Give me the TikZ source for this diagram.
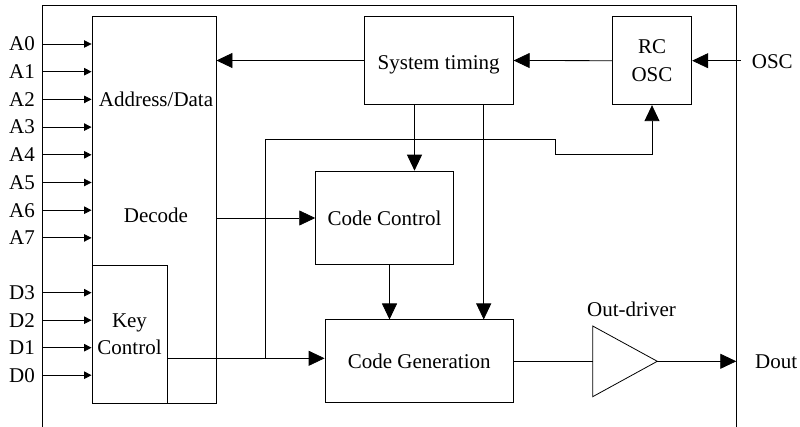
\documentclass[tikz,border=0pt]{standalone}
\usepackage{fontspec}
\setmainfont{Liberation Serif}
\usetikzlibrary{arrows.meta}

\begin{document}
\begin{tikzpicture}[x=1pt,y=-1pt,
  font=\fontsize{21pt}{27.5pt}\selectfont,
  box/.style={draw, line width=0.9pt, inner sep=0pt},
  wire/.style={line width=0.8pt},
  pin/.style={wire, -{Triangle[length=7.5pt,width=7.5pt]}},
  big/.style={wire, -{Triangle[length=16pt,width=15pt]}},
  inlbl/.style={anchor=east, inner xsep=7.7pt, inner ysep=0pt}]
\useasboundingbox (0,0) rectangle (800,427);
% outer frame
\coordinate (ftl) at (42.7,5.7);
\coordinate (ftr) at (736.3,5.7);
\draw[line width=1pt] (42.7,427) -- (ftl) -- (ftr) -- (736.3,427);
% blocks
\node[box, minimum width=124pt, minimum height=387pt] (decode) at (154,209.5){};
\node[box, minimum width=75pt, minimum height=138pt, align=center] (keyctrl) at (129.5,334){Key\\Control};
\node (addr) at (156,99.5){Address/Data};
\node (dec) at (156,215){Decode};
\node[box, minimum width=149pt, minimum height=88pt, text height=19pt, text depth=0pt] (stime) at (438.7,60.5){System timing};
\node[box, minimum width=79.4pt, minimum height=88pt, align=center] (rcosc) at (652,60.7){RC\\OSC};
\node[box, minimum width=137.6pt, minimum height=93.7pt] (cctrl) at (384.5,218){Code Control};
\node[box, minimum width=188.3pt, minimum height=82.7pt] (cgen) at (419.2,361.3){Code Generation};
% out-driver
\coordinate (drvtop) at (592.7,326);
\coordinate (drvbot) at (592.7,396.7);
\coordinate (drvin) at (592.7,361.3);
\coordinate (drvout) at (657.3,361.3);
\draw[wire] (drvtop) -- (drvout) -- (drvbot) -- cycle;
\node (drvlbl) at (631.5,309){Out-driver};
% OSC in, Dout out
\node[anchor=west, inner sep=0pt] (osc) at (751.7,62){OSC};
\coordinate (oscin) at (740.7,60.7);
\draw[big] (oscin) -- (rcosc.east);
\node[anchor=west, inner sep=0pt] (dout) at (755,361.3){Dout};
\draw[big] (drvout) -- (drvout -| ftr);
\draw[wire] (cgen.east) -- (drvin);
% internal connections
\draw[big] (rcosc.west) -- (stime.east);
\draw[big] (stime.west) -- (stime.west -| decode.east);
\draw[big] (decode.east |- cctrl.west) -- (cctrl.west);
\draw[big] ([xshift=30pt]cctrl.north |- stime.south) -- ([xshift=30pt]cctrl.north);
\draw[big] ([xshift=45pt]stime.south) -- ([xshift=45pt]stime.south |- cgen.north);
\draw[big] ([xshift=5pt]cctrl.south) -- ([xshift=5pt]cctrl.south |- cgen.north);
\coordinate (split) at (265.7,358.3);
\draw[wire] (keyctrl.east |- split) -- (split);
\draw[big] (split) -- (split -| cgen.west);
\draw[big] (split) |- (555,139) |- (652,154.3) -- (rcosc.south);
% address inputs
\node[inlbl] (a0) at (42.7,44){A0};
\draw[pin] (a0) -- (a0 -| decode.west);
\node[inlbl] (a1) at (42.7,71.7){A1};
\draw[pin] (a1) -- (a1 -| decode.west);
\node[inlbl] (a2) at (42.7,99.4){A2};
\draw[pin] (a2) -- (a2 -| decode.west);
\node[inlbl] (a3) at (42.7,127.1){A3};
\draw[pin] (a3) -- (a3 -| decode.west);
\node[inlbl] (a4) at (42.7,154.8){A4};
\draw[pin] (a4) -- (a4 -| decode.west);
\node[inlbl] (a5) at (42.7,182.5){A5};
\draw[pin] (a5) -- (a5 -| decode.west);
\node[inlbl] (a6) at (42.7,210.2){A6};
\draw[pin] (a6) -- (a6 -| decode.west);
\node[inlbl] (a7) at (42.7,237.9){A7};
\draw[pin] (a7) -- (a7 -| decode.west);
% data inputs
\node[inlbl] (d3) at (42.7,292.7){D3};
\draw[pin] (d3) -- (d3 -| keyctrl.west);
\node[inlbl] (d2) at (42.7,320.2){D2};
\draw[pin] (d2) -- (d2 -| keyctrl.west);
\node[inlbl] (d1) at (42.7,347.7){D1};
\draw[pin] (d1) -- (d1 -| keyctrl.west);
\node[inlbl] (d0) at (42.7,375.2){D0};
\draw[pin] (d0) -- (d0 -| keyctrl.west);
\end{tikzpicture}
\end{document}
